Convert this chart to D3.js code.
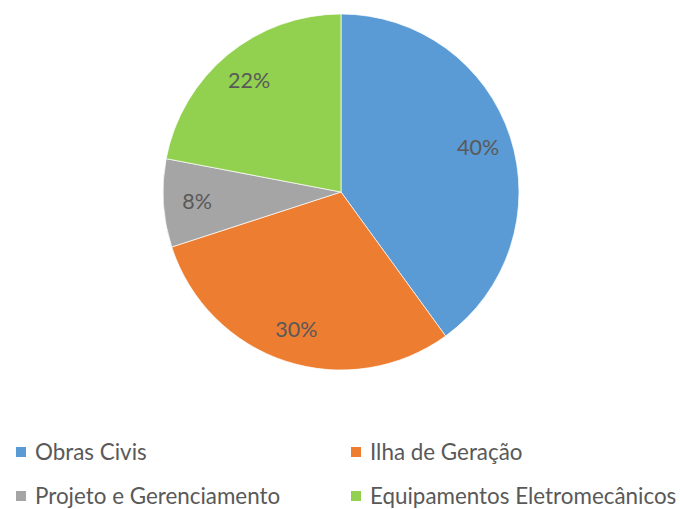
<!DOCTYPE html>
<html>
<head>
<meta charset="utf-8">
<script src="https://cdn.jsdelivr.net/npm/d3@7"></script>
<style>
  body { margin: 0; background: #fff; }
  text { font-family: Lato, "Open Sans", sans-serif; fill: #595959; }
</style>
</head>
<body>
<div id="chart"></div>
<script>
const categories = ["Obras Civis", "Ilha de Geração", "Projeto e Gerenciamento", "Equipamentos Eletromecânicos"];
const values = [40, 30, 8, 22];
const colors = ["#5b9bd5", "#ed7d31", "#a5a5a5", "#92d050"];

const width = 680, height = 509;
const cx = 341, cy = 192, radius = 178;

const svg = d3.select("#chart")
  .append("svg")
  .attr("width", width)
  .attr("height", height);

const data = categories.map((c, i) => ({ name: c, value: values[i], color: colors[i] }));

const pie = d3.pie().sort(null).value(d => d.value);
const arc = d3.arc().innerRadius(0).outerRadius(radius);
const labelArc = d3.arc().innerRadius(radius * 0.81).outerRadius(radius * 0.81);

const total = d3.sum(values);

const g = svg.append("g")
  .attr("transform", `translate(${cx}, ${cy})`);

g.selectAll("path")
  .data(pie(data))
  .join("path")
  .attr("d", arc)
  .attr("fill", d => d.data.color)
  .attr("stroke", "#fff")
  .attr("stroke-width", 0.7);

g.selectAll("text.label")
  .data(pie(data))
  .join("text")
  .attr("class", "label")
  .attr("transform", d => `translate(${labelArc.centroid(d)})`)
  .attr("text-anchor", "middle")
  .attr("dy", "0.35em")
  .attr("font-size", "21.5px")
  .text(d => Math.round(d.data.value / total * 100) + "%");

// legend, 2 columns
const legendX = [16, 351];
const legendY = [452, 496];

const legend = svg.selectAll("g.legend")
  .data(data)
  .join("g")
  .attr("class", "legend")
  .attr("transform", (d, i) => `translate(${legendX[i % 2]}, ${legendY[Math.floor(i / 2)]})`);

legend.append("rect")
  .attr("x", 0)
  .attr("y", -5)
  .attr("width", 10)
  .attr("height", 10)
  .attr("fill", d => d.color);

legend.append("text")
  .attr("x", 19)
  .attr("dy", "0.35em")
  .attr("font-size", "22.4px")
  .text(d => d.name);
</script>
</body>
</html>
